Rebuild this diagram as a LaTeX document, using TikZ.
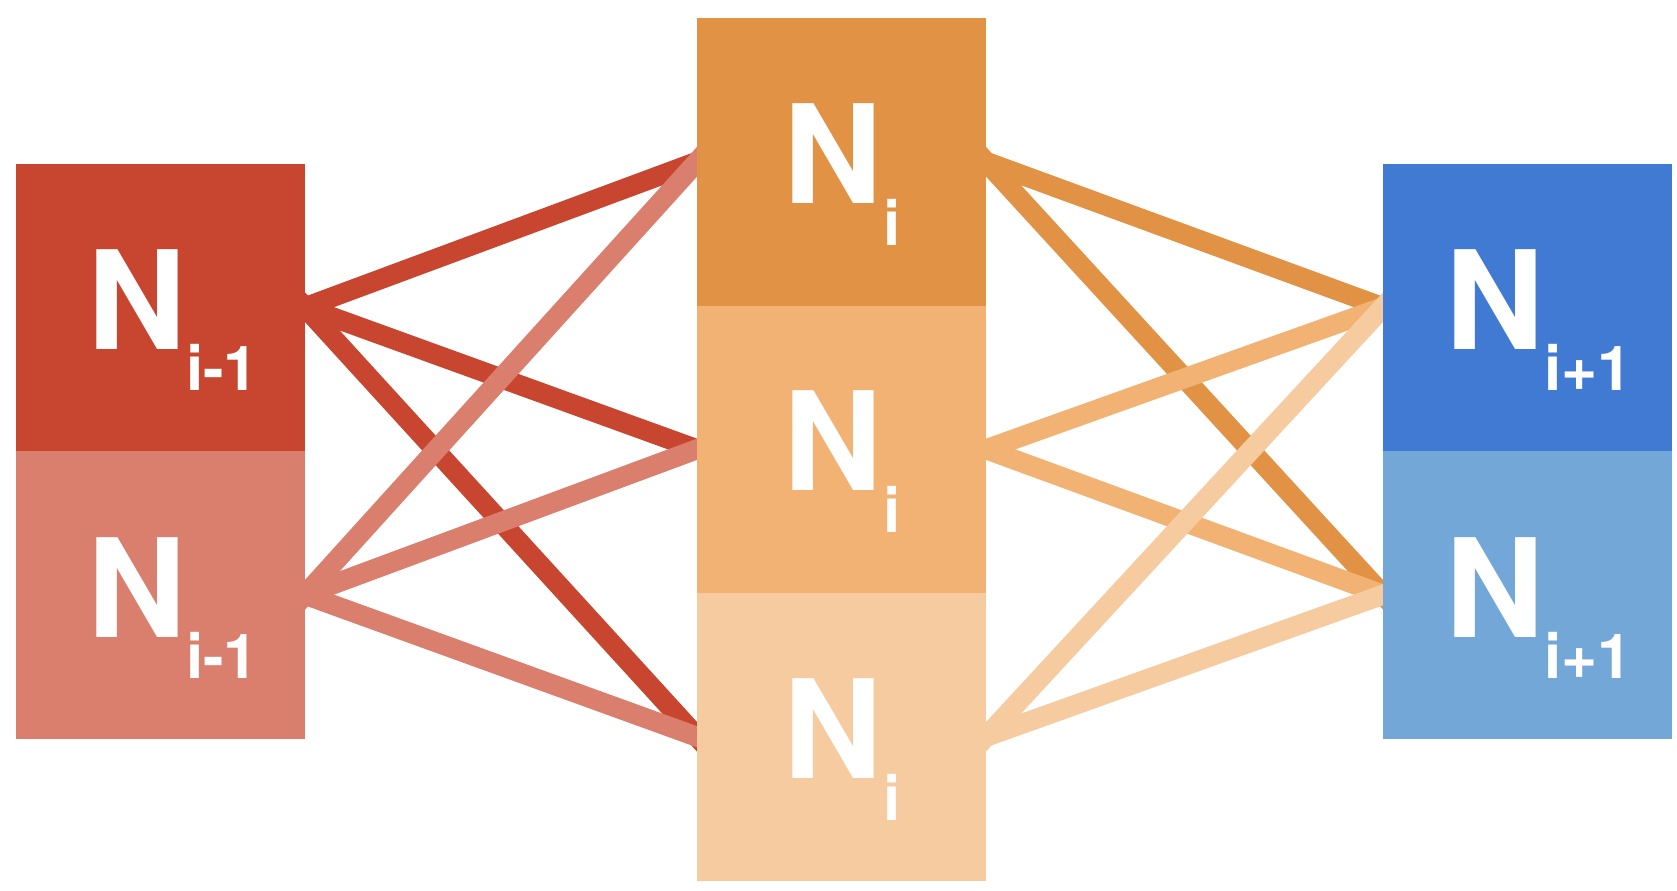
\documentclass[tikz,border=0pt]{standalone}
\usepackage{fontspec}
\setmainfont{TeX Gyre Heros}
\usetikzlibrary{calc}
\pgfdeclarelayer{background}
\pgfsetlayers{background,main}
\definecolor{cA}{RGB}{200,70,47}
\definecolor{cB}{RGB}{218,126,110}
\definecolor{cC}{RGB}{226,146,68}
\definecolor{cD}{RGB}{242,178,115}
\definecolor{cE}{RGB}{246,203,160}
\definecolor{cF}{RGB}{65,122,211}
\definecolor{cG}{RGB}{114,167,216}
\tikzset{
  cell/.style={draw=none, inner sep=0pt, outer sep=0pt, anchor=north west,
    minimum width=144.5pt, minimum height=143.75pt},
  bigN/.style={anchor=base west, inner sep=0pt, outer sep=0pt, text=white,
    font=\bfseries\fontsize{68.5pt}{68.5pt}\selectfont},
  subN/.style={anchor=base west, inner sep=0pt, outer sep=0pt, text=white,
    font=\bfseries\fontsize{31pt}{31pt}\selectfont},
  link/.style={line width=10pt, shorten <=-9pt, shorten >=-9pt}
}
\begin{document}
\begin{tikzpicture}[x=0.5pt,y=-0.5pt]
\useasboundingbox (0,0) rectangle (1677,890);
% boxes
\node[cell, fill=cA] (lt) at (16,163.5) {};
\node[cell, fill=cB] (lb) at (16,451) {};
\node[cell, fill=cC] (mt) at (697,18) {};
\node[cell, fill=cD] (mm) at (697,305.5) {};
\node[cell, fill=cE] (mb) at (697,593) {};
\node[cell, fill=cF] (rt) at (1383,163.5) {};
\node[cell, fill=cG] (rb) at (1383,451) {};
% labels
\node[bigN] (ltN) at ($(lt.north west)+(71,186)$) {N};
\node[subN] (ltS) at ($(lt.north west)+(170,227)$) {i-1};
\node[bigN] (lbN) at ($(lb.north west)+(71,186)$) {N};
\node[subN] (lbS) at ($(lb.north west)+(170,227)$) {i-1};
\node[bigN] (mtN) at ($(mt.north west)+(86,185)$) {N};
\node[subN] (mtS) at ($(mt.north west)+(186,227)$) {i};
\node[bigN] (mmN) at ($(mm.north west)+(86,185)$) {N};
\node[subN] (mmS) at ($(mm.north west)+(186,227)$) {i};
\node[bigN] (mbN) at ($(mb.north west)+(86,185)$) {N};
\node[subN] (mbS) at ($(mb.north west)+(186,227)$) {i};
\node[bigN] (rtN) at ($(rt.north west)+(62,186)$) {N};
\node[subN] (rtS) at ($(rt.north west)+(161.5,227)$) {i+1};
\node[bigN] (rbN) at ($(rb.north west)+(62,186)$) {N};
\node[subN] (rbS) at ($(rb.north west)+(161.5,227)$) {i+1};
% connectors
\begin{pgfonlayer}{background}
\foreach \t in {mt,mm,mb} \draw[link, cA] (lt.east) -- (\t.west);
\foreach \t in {mt,mm,mb} \draw[link, cB] (lb.east) -- (\t.west);
\foreach \t in {rt,rb} \draw[link, cC] (mt.east) -- (\t.west);
\foreach \t in {rt,rb} \draw[link, cD] (mm.east) -- (\t.west);
\foreach \t in {rt,rb} \draw[link, cE] (mb.east) -- (\t.west);
\end{pgfonlayer}
\end{tikzpicture}
\end{document}
